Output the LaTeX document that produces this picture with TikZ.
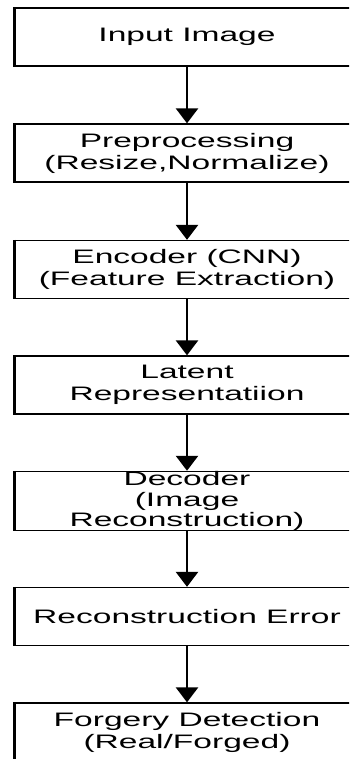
\documentclass[tikz,border=0pt]{standalone}
\usepackage{fontspec}
\newfontfamily\widesans[FakeStretch=1.72]{Liberation Sans}
\usetikzlibrary{arrows.meta}
\tikzset{
  box/.style={draw=black, line width=1.3pt, minimum width=344pt, minimum height=58pt,
    inner sep=0pt, align=center, text=black,
    font=\widesans\fontsize{19.5}{22}\selectfont},
  vedge/.style={line width=2.3pt},
  arr/.style={line width=2.6pt, -{Triangle[width=22pt,length=15pt]}}
}
\begin{document}
\begin{tikzpicture}[x=1pt,y=-1pt]
\useasboundingbox (0,0) rectangle (349,759);
\clip (0,0) rectangle (349,759);
\fill[white] (0,0) rectangle (349,759);
\node[box] (b1) at (187,37) {Input Image};
\node[box] (b2) at (187,153) {Preprocessing\\(Resize,Normalize)};
\node[box] (b3) at (187,269.5) {Encoder (CNN)\\(Feature Extraction)};
\node[box] (b4) at (187,385) {Latent\\Representatiion};
\node[box, font=\widesans\fontsize{19.5}{20.5}\selectfont] (b5) at (187,501) {Decoder\\(Image\\Reconstruction)};
\node[box] (b6) at (187,616.5) {Reconstruction Error};
\node[box] (b7) at (187,732) {Forgery Detection\\(Real/Forged)};
\foreach \n in {b1,b2,b3,b4,b5,b6,b7}{
  \draw[vedge] (\n.north west) -- (\n.south west);
}
\draw[arr] (b1) -- (b2);
\draw[arr] (b2) -- (b3);
\draw[arr] (b3) -- (b4);
\draw[arr] (b4) -- (b5);
\draw[arr] (b5) -- (b6);
\draw[arr] (b6) -- (b7);
\end{tikzpicture}
\end{document}
